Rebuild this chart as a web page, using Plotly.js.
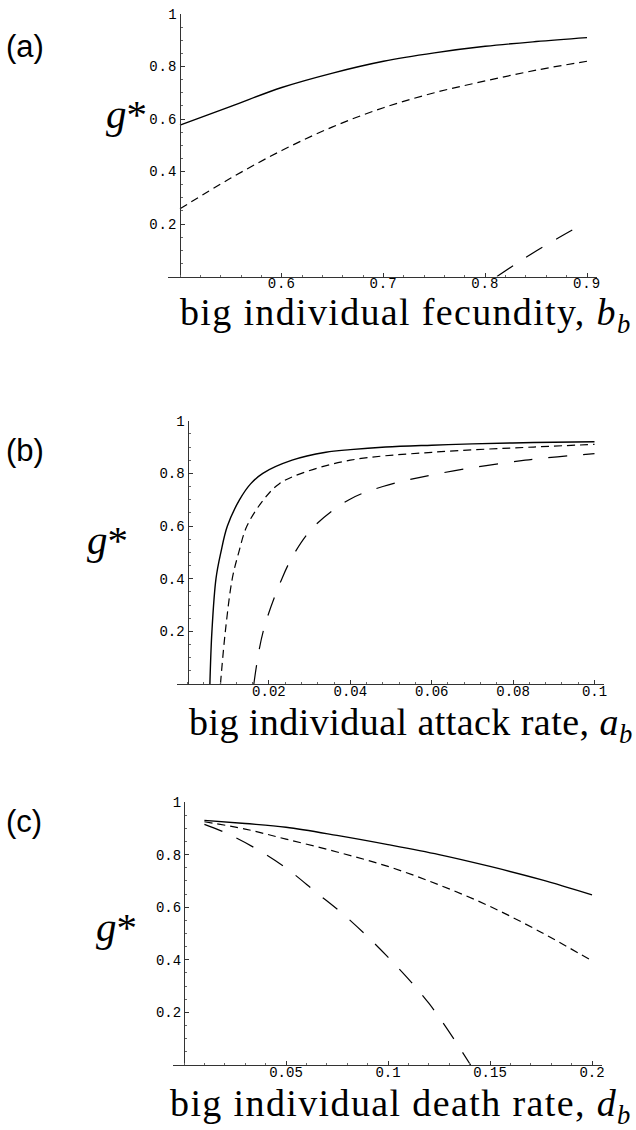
<!DOCTYPE html>
<html><head><meta charset="utf-8">
<script src="https://cdn.plot.ly/plotly-3.0.1.min.js"></script>
<style>html,body{margin:0;padding:0;background:#fff}</style>
</head><body><div id="chart" style="width:636px;height:1130px"></div>
<script>
// ---------- data ----------
// (a) g* vs big individual fecundity b_b
const aSolidX  = [0.5, 0.55, 0.6, 0.65, 0.7, 0.75, 0.8, 0.85, 0.9];
const aSolidY  = [0.577, 0.648, 0.72, 0.775, 0.82, 0.852, 0.877, 0.895, 0.91];
const aDashX   = [0.5, 0.55, 0.6, 0.65, 0.7, 0.75, 0.8, 0.85, 0.9];
const aDashY   = [0.258, 0.375, 0.48, 0.57, 0.643, 0.70, 0.745, 0.786, 0.82];
const aLongX   = [0.8115, 0.83, 0.85, 0.87, 0.89];
const aLongY   = [0, 0.048, 0.097, 0.143, 0.187];
// (b) g* vs big individual attack rate a_b
const bSolidX  = [0.0055, 0.006, 0.007, 0.0082, 0.0098, 0.0128, 0.0155, 0.0185, 0.0257, 0.034, 0.040, 0.0487, 0.06, 0.07, 0.085, 0.1];
const bSolidY  = [0, 0.2, 0.4, 0.5, 0.6, 0.7, 0.76, 0.8, 0.85, 0.88, 0.89, 0.9, 0.907, 0.912, 0.917, 0.92];
const bDashX   = [0.0081, 0.0093, 0.011, 0.0126, 0.0146, 0.0187, 0.0225, 0.028, 0.040, 0.06, 0.085, 0.1];
const bDashY   = [0, 0.2, 0.4, 0.5, 0.6, 0.7, 0.76, 0.8, 0.85, 0.88, 0.9, 0.91];
const bLongX   = [0.0163, 0.0186, 0.0232, 0.0264, 0.0312, 0.0397, 0.048, 0.062, 0.083, 0.1];
const bLongY   = [0, 0.2, 0.4, 0.5, 0.6, 0.7, 0.75, 0.8, 0.85, 0.875];
// (c) g* vs big individual death rate d_b
const cSolidX  = [0.01, 0.03, 0.05, 0.075, 0.1, 0.125, 0.15, 0.175, 0.2];
const cSolidY  = [0.93, 0.918, 0.904, 0.873, 0.838, 0.80, 0.755, 0.705, 0.647];
const cDashX   = [0.01, 0.03, 0.05, 0.075, 0.1, 0.125, 0.15, 0.175, 0.2];
const cDashY   = [0.925, 0.897, 0.859, 0.81, 0.755, 0.685, 0.603, 0.505, 0.396];
const cLongX   = [0.01, 0.02, 0.035, 0.05, 0.065, 0.08, 0.1, 0.12, 0.1405];
const cLongY   = [0.915, 0.884, 0.824, 0.749, 0.655, 0.56, 0.41, 0.235, 0];

// tick labels
const aTickVals = [0.6, 0.7, 0.8, 0.9];
const aTickText = ['0.6', '0.7', '0.8', '0.9'];
const bTickVals = [0.02, 0.04, 0.06, 0.08, 0.1];
const bTickText = ['0.02', '0.04', '0.06', '0.08', '0.1'];
const cTickVals = [0.05, 0.1, 0.15, 0.2];
const cTickText = ['0.05', '0.1', '0.15', '0.2'];
const yTickVals = [0.2, 0.4, 0.6, 0.8, 1];
const yTickText = ['0.2', '0.4', '0.6', '0.8', '1'];

const panelLetters = ['(a)', '(b)', '(c)'];
const xTitles = [
  'big individual fecundity, <i>b</i><sub><i>b</i></sub>',
  'big individual attack rate, <i>a</i><sub><i>b</i></sub>',
  'big individual death rate, <i>d</i><sub><i>b</i></sub>'
];
const yTitle = '<i>g</i>*';

// ---------- layout geometry ----------
const W = 636, H = 1130;
const fx = p => p / W;
const fy = p => 1 - p / H;

const geo = [
  {x0v: 0.5, x0px: 180,   xs: 1017.5, left: 168, right: 597, top: 14,    bottom: 276.5,
   minor0: 0.5, minorD: 0.02, letterY: 46,  gX: 126, gY: 114, titleY: 315, titleL: 180, titleR: 633},
  {x0v: 0,   x0px: 187.5, xs: 4070,   left: 177, right: 604, top: 420.7, bottom: 684,
   minor0: 0,   minorD: 0.004, letterY: 451, gX: 107, gY: 540, titleY: 725, titleL: 189, titleR: 633},
  {x0v: 0,   x0px: 184,   xs: 2040,   left: 173, right: 602, top: 802,   bottom: 1065,
   minor0: 0,   minorD: 0.01, letterY: 821, gX: 117, gY: 927, titleY: 1106, titleL: 170, titleR: 633}
];
const ticksets = [[aTickVals, aTickText], [bTickVals, bTickText], [cTickVals, cTickText]];
const series = [
  [[aSolidX, aSolidY], [aDashX, aDashY], [aLongX, aLongY]],
  [[bSolidX, bSolidY], [bDashX, bDashY], [bLongX, bLongY]],
  [[cSolidX, cSolidY], [cDashX, cDashY], [cLongX, cLongY]]
];
const styles = [
  {width: 1.4, dash: 'solid'},
  {width: 1.2, dash: '8px,5px'},
  {width: 1.2, dash: '19px,16px'}
];

const tickFont = {family: 'Liberation Mono, monospace', size: 14, color: '#000'};
const axisCol = '#333';
const tickCharW = 9;   // reference tick labels: about 9 px per character

const traces = [];
const layout = {
  width: W, height: H,
  margin: {l: 0, r: 0, t: 0, b: 0},
  paper_bgcolor: '#fff', plot_bgcolor: 'rgba(0,0,0,0)',
  showlegend: false,
  annotations: []
};

geo.forEach((g, i) => {
  const sfx = i === 0 ? '' : String(i + 1);
  series[i].forEach((s, k) => {
    traces.push({
      x: s[0], y: s[1], type: 'scatter', mode: 'lines',
      xaxis: 'x' + sfx, yaxis: 'y' + sfx,
      line: {color: '#000', width: styles[k].width, dash: styles[k].dash,
             shape: 'spline', smoothing: 1},
      hoverinfo: 'skip'
    });
  });
  const xr = [g.x0v + (g.left - g.x0px) / g.xs, g.x0v + (g.right - g.x0px) / g.xs];
  layout['xaxis' + sfx] = {
    domain: [fx(g.left), fx(g.right)], range: xr, anchor: 'y' + sfx,
    showline: true, linecolor: axisCol, linewidth: 1,
    ticks: 'inside', ticklen: 4, tickwidth: 1, tickcolor: axisCol,
    tickmode: 'array', tickvals: ticksets[i][0], ticktext: ticksets[i][1],
    ticklabelstandoff: -6,
    tickfont: tickFont, showgrid: false, zeroline: false, fixedrange: true,
    minor: {tickmode: 'linear', tick0: g.minor0, dtick: g.minorD, ticks: 'inside',
            ticklen: 2, tickwidth: 1, tickcolor: '#666', showgrid: false}
  };
  layout['yaxis' + sfx] = {
    domain: [fy(g.bottom), fy(g.top)], range: [0, 1],
    anchor: 'free', position: fx(g.x0px), side: 'left',
    showline: true, linecolor: axisCol, linewidth: 1,
    ticks: 'inside', ticklen: 4, tickwidth: 1, tickcolor: axisCol,
    tickmode: 'array', tickvals: yTickVals, ticktext: yTickText,
    tickfont: tickFont, showgrid: false, zeroline: false, fixedrange: true,
    minor: {tickmode: 'linear', tick0: 0, dtick: 0.05, ticks: 'inside',
            ticklen: 2, tickwidth: 1, tickcolor: '#666', showgrid: false}
  };
  layout.annotations.push({
    xref: 'paper', yref: 'paper', x: fx(4), y: fy(g.letterY),
    xanchor: 'left', yanchor: 'middle', showarrow: false, text: panelLetters[i],
    font: {family: 'Liberation Sans, Arial, sans-serif', size: 31, color: '#000'}
  });
  layout.annotations.push({
    xref: 'paper', yref: 'paper', x: fx(g.gX), y: fy(g.gY),
    xanchor: 'center', yanchor: 'middle', showarrow: false, text: yTitle,
    font: {family: 'Liberation Serif, Times New Roman, serif', size: 41, color: '#000'}
  });
  layout.annotations.push({
    xref: 'paper', yref: 'paper', x: fx(g.titleL - 2), y: fy(g.titleY),
    xanchor: 'left', yanchor: 'middle', align: 'left', showarrow: false,
    text: xTitles[i],
    font: {family: 'Liberation Serif, Times New Roman, serif', size: 38, color: '#000'}
  });
});

Plotly.newPlot('chart', traces, layout, {staticPlot: true, displayModeBar: false}).then(() => {
  // stretch the axis titles (reference uses a wider Computer-Modern face)
  document.querySelectorAll('.annotation-text').forEach(t => {
    const s = t.textContent;
    if (!s.startsWith('big')) return;
    const idx = s.includes('fecundity') ? 0 : (s.includes('attack') ? 1 : 2);
    const target = geo[idx].titleR - geo[idx].titleL;
    const w = t.getBBox().width;
    const ls = (target - w) / (s.length - 1);
    if (ls > 0) t.style.letterSpacing = ls.toFixed(2) + 'px';
  });
  // widen tick labels to the reference's typewriter spacing
  document.querySelectorAll('.xtick text, .ytick text').forEach(t => {
    const s = t.textContent;
    const w = t.getBBox().width;
    const ls = (tickCharW * s.length - w) / Math.max(1, s.length - 1);
    if (ls > 0) t.style.letterSpacing = ls.toFixed(2) + 'px';
  });
});
</script></body></html>
